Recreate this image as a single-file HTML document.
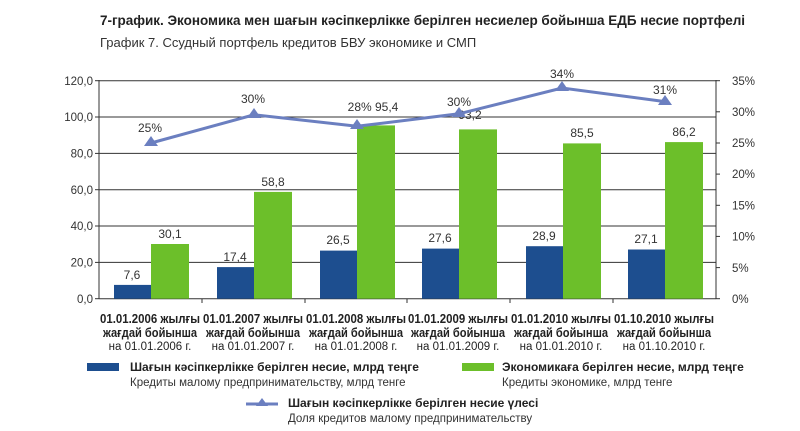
<!DOCTYPE html>
<html><head><meta charset="utf-8"><style>
body{margin:0;background:#fff;}
svg{display:block;font-family:"Liberation Sans",sans-serif;}
</style></head><body>
<svg width="800" height="431" xmlns="http://www.w3.org/2000/svg">
<text x="100" y="25" font-size="13.5" font-weight="bold" fill="#222" textLength="645">7-график. Экономика мен шағын кәсіпкерлікке берілген несиелер бойынша ЕДБ несие портфелі</text>
<text x="100" y="47" font-size="13" fill="#333">График 7. Ссудный портфель кредитов БВУ экономике и СМП</text>
<g stroke="#333" stroke-width="1">
<line x1="99" y1="80.7" x2="716" y2="80.7"/><line x1="99" y1="117" x2="716" y2="117"/><line x1="99" y1="153.4" x2="716" y2="153.4"/><line x1="99" y1="189.7" x2="716" y2="189.7"/><line x1="99" y1="226" x2="716" y2="226"/><line x1="99" y1="262.4" x2="716" y2="262.4"/>
<line x1="99" y1="298.7" x2="716" y2="298.7"/>
<line x1="99" y1="80" x2="99" y2="299"/><line x1="716" y1="80" x2="716" y2="299"/>
<line x1="95" y1="80.7" x2="99" y2="80.7"/><line x1="95" y1="117" x2="99" y2="117"/><line x1="95" y1="153.4" x2="99" y2="153.4"/><line x1="95" y1="189.7" x2="99" y2="189.7"/><line x1="95" y1="226" x2="99" y2="226"/><line x1="95" y1="262.4" x2="99" y2="262.4"/><line x1="95" y1="298.7" x2="99" y2="298.7"/>
<line x1="716" y1="80.7" x2="720" y2="80.7"/><line x1="716" y1="111.8" x2="720" y2="111.8"/><line x1="716" y1="143" x2="720" y2="143"/><line x1="716" y1="174.1" x2="720" y2="174.1"/><line x1="716" y1="205.3" x2="720" y2="205.3"/><line x1="716" y1="236.4" x2="720" y2="236.4"/><line x1="716" y1="267.6" x2="720" y2="267.6"/><line x1="716" y1="298.7" x2="720" y2="298.7"/>
<line x1="202" y1="299" x2="202" y2="303"/><line x1="305" y1="299" x2="305" y2="303"/><line x1="407" y1="299" x2="407" y2="303"/><line x1="510" y1="299" x2="510" y2="303"/><line x1="613" y1="299" x2="613" y2="303"/>
</g>
<g font-size="11.5" fill="#333" text-anchor="end">
<text x="93" y="85">120,0</text><text x="93" y="121">100,0</text><text x="93" y="157.5">80,0</text><text x="93" y="194">60,0</text><text x="93" y="230">40,0</text><text x="93" y="266.5">20,0</text><text x="93" y="303">0,0</text>
</g>
<g font-size="11.5" fill="#333">
<text x="732" y="85">35%</text><text x="732" y="116">30%</text><text x="732" y="147">25%</text><text x="732" y="178">20%</text><text x="732" y="209.5">15%</text><text x="732" y="240.5">10%</text><text x="732" y="272">5%</text><text x="732" y="303">0%</text>
</g>
<g fill="#1d4e8f">
<rect x="114" y="284.9" width="37" height="13.8"/><rect x="217" y="267.1" width="37" height="31.6"/><rect x="320" y="250.6" width="37" height="48.1"/><rect x="422" y="248.6" width="37" height="50.1"/><rect x="526" y="246.2" width="37" height="52.5"/><rect x="628" y="249.5" width="37" height="49.2"/>
</g>
<g fill="#6cbf2a">
<rect x="151" y="244" width="38" height="54.7"/><rect x="254" y="191.9" width="38" height="106.8"/><rect x="357" y="125.4" width="38" height="173.3"/><rect x="459" y="129.4" width="38" height="169.3"/><rect x="563" y="143.4" width="38" height="155.3"/><rect x="665" y="142.1" width="38" height="156.6"/>
</g>
<g font-size="12" fill="#333" text-anchor="middle">
<text x="132" y="279">7,6</text><text x="235" y="261">17,4</text><text x="338" y="244">26,5</text><text x="440" y="242">27,6</text><text x="544" y="240">28,9</text><text x="646" y="243">27,1</text>
<text x="170" y="238">30,1</text><text x="273" y="186">58,8</text><text x="373" y="111">28% 95,4</text><text x="459" y="106">30%</text><text x="470" y="119">93,2</text><text x="582" y="137">85,5</text><text x="684" y="136">86,2</text>
<text x="150" y="132">25%</text><text x="253" y="103">30%</text><text x="562" y="78">34%</text><text x="665" y="94">31%</text>
</g>
<polyline points="151,143 254,114.8 357,126.3 459,113.8 562,88 665,101.6" fill="none" stroke="#6b7fc0" stroke-width="3"/>
<g fill="#6b7fc0">
<polygon points="151,136 144,146 158,146"/><polygon points="254,108 247,118 261,118"/><polygon points="357,119 350,129 364,129"/><polygon points="459,107 452,117 466,117"/><polygon points="562,81 555,91 569,91"/><polygon points="665,95 658,105 672,105"/>
</g>
<g font-size="13" fill="#222" text-anchor="middle">
<g font-weight="bold">
<text x="150" y="323" textLength="100" lengthAdjust="spacingAndGlyphs">01.01.2006 жылғы</text><text x="150" y="337" textLength="94" lengthAdjust="spacingAndGlyphs">жағдай бойынша</text>
<text x="253" y="323" textLength="100" lengthAdjust="spacingAndGlyphs">01.01.2007 жылғы</text><text x="253" y="337" textLength="94" lengthAdjust="spacingAndGlyphs">жағдай бойынша</text>
<text x="356" y="323" textLength="100" lengthAdjust="spacingAndGlyphs">01.01.2008 жылғы</text><text x="356" y="337" textLength="94" lengthAdjust="spacingAndGlyphs">жағдай бойынша</text>
<text x="458" y="323" textLength="100" lengthAdjust="spacingAndGlyphs">01.01.2009 жылғы</text><text x="458" y="337" textLength="94" lengthAdjust="spacingAndGlyphs">жағдай бойынша</text>
<text x="561" y="323" textLength="100" lengthAdjust="spacingAndGlyphs">01.01.2010 жылғы</text><text x="561" y="337" textLength="94" lengthAdjust="spacingAndGlyphs">жағдай бойынша</text>
<text x="664" y="323" textLength="100" lengthAdjust="spacingAndGlyphs">01.10.2010 жылғы</text><text x="664" y="337" textLength="94" lengthAdjust="spacingAndGlyphs">жағдай бойынша</text></g>
<g font-size="11.5"><text x="150" y="350">на 01.01.2006 г.</text><text x="253" y="350">на 01.01.2007 г.</text><text x="356" y="350">на 01.01.2008 г.</text><text x="458" y="350">на 01.01.2009 г.</text><text x="561" y="350">на 01.01.2010 г.</text><text x="664" y="350">на 01.10.2010 г.</text></g>
</g>
<rect x="87" y="363" width="32" height="8" fill="#1d4e8f"/>
<text x="130" y="371" font-size="12" font-weight="bold" fill="#222">Шағын кәсіпкерлікке берілген несие, млрд теңге</text>
<text x="130" y="386" font-size="11.5" fill="#333">Кредиты малому предпринимательству, млрд тенге</text>
<rect x="462" y="363" width="32" height="8" fill="#6cbf2a"/>
<text x="502" y="371" font-size="12" font-weight="bold" fill="#222">Экономикаға берілген несие, млрд теңге</text>
<text x="502" y="386" font-size="11.5" fill="#333">Кредиты экономике, млрд тенге</text>
<line x1="246" y1="404" x2="278" y2="404" stroke="#6b7fc0" stroke-width="3"/>
<polygon points="262,398 256,406 268,406" fill="#6b7fc0"/>
<text x="288" y="407" font-size="12" font-weight="bold" fill="#222">Шағын кәсіпкерлікке берілген несие үлесі</text>
<text x="288" y="422" font-size="11.5" fill="#333">Доля кредитов малому предпринимательству</text>
</svg>
</body></html>
